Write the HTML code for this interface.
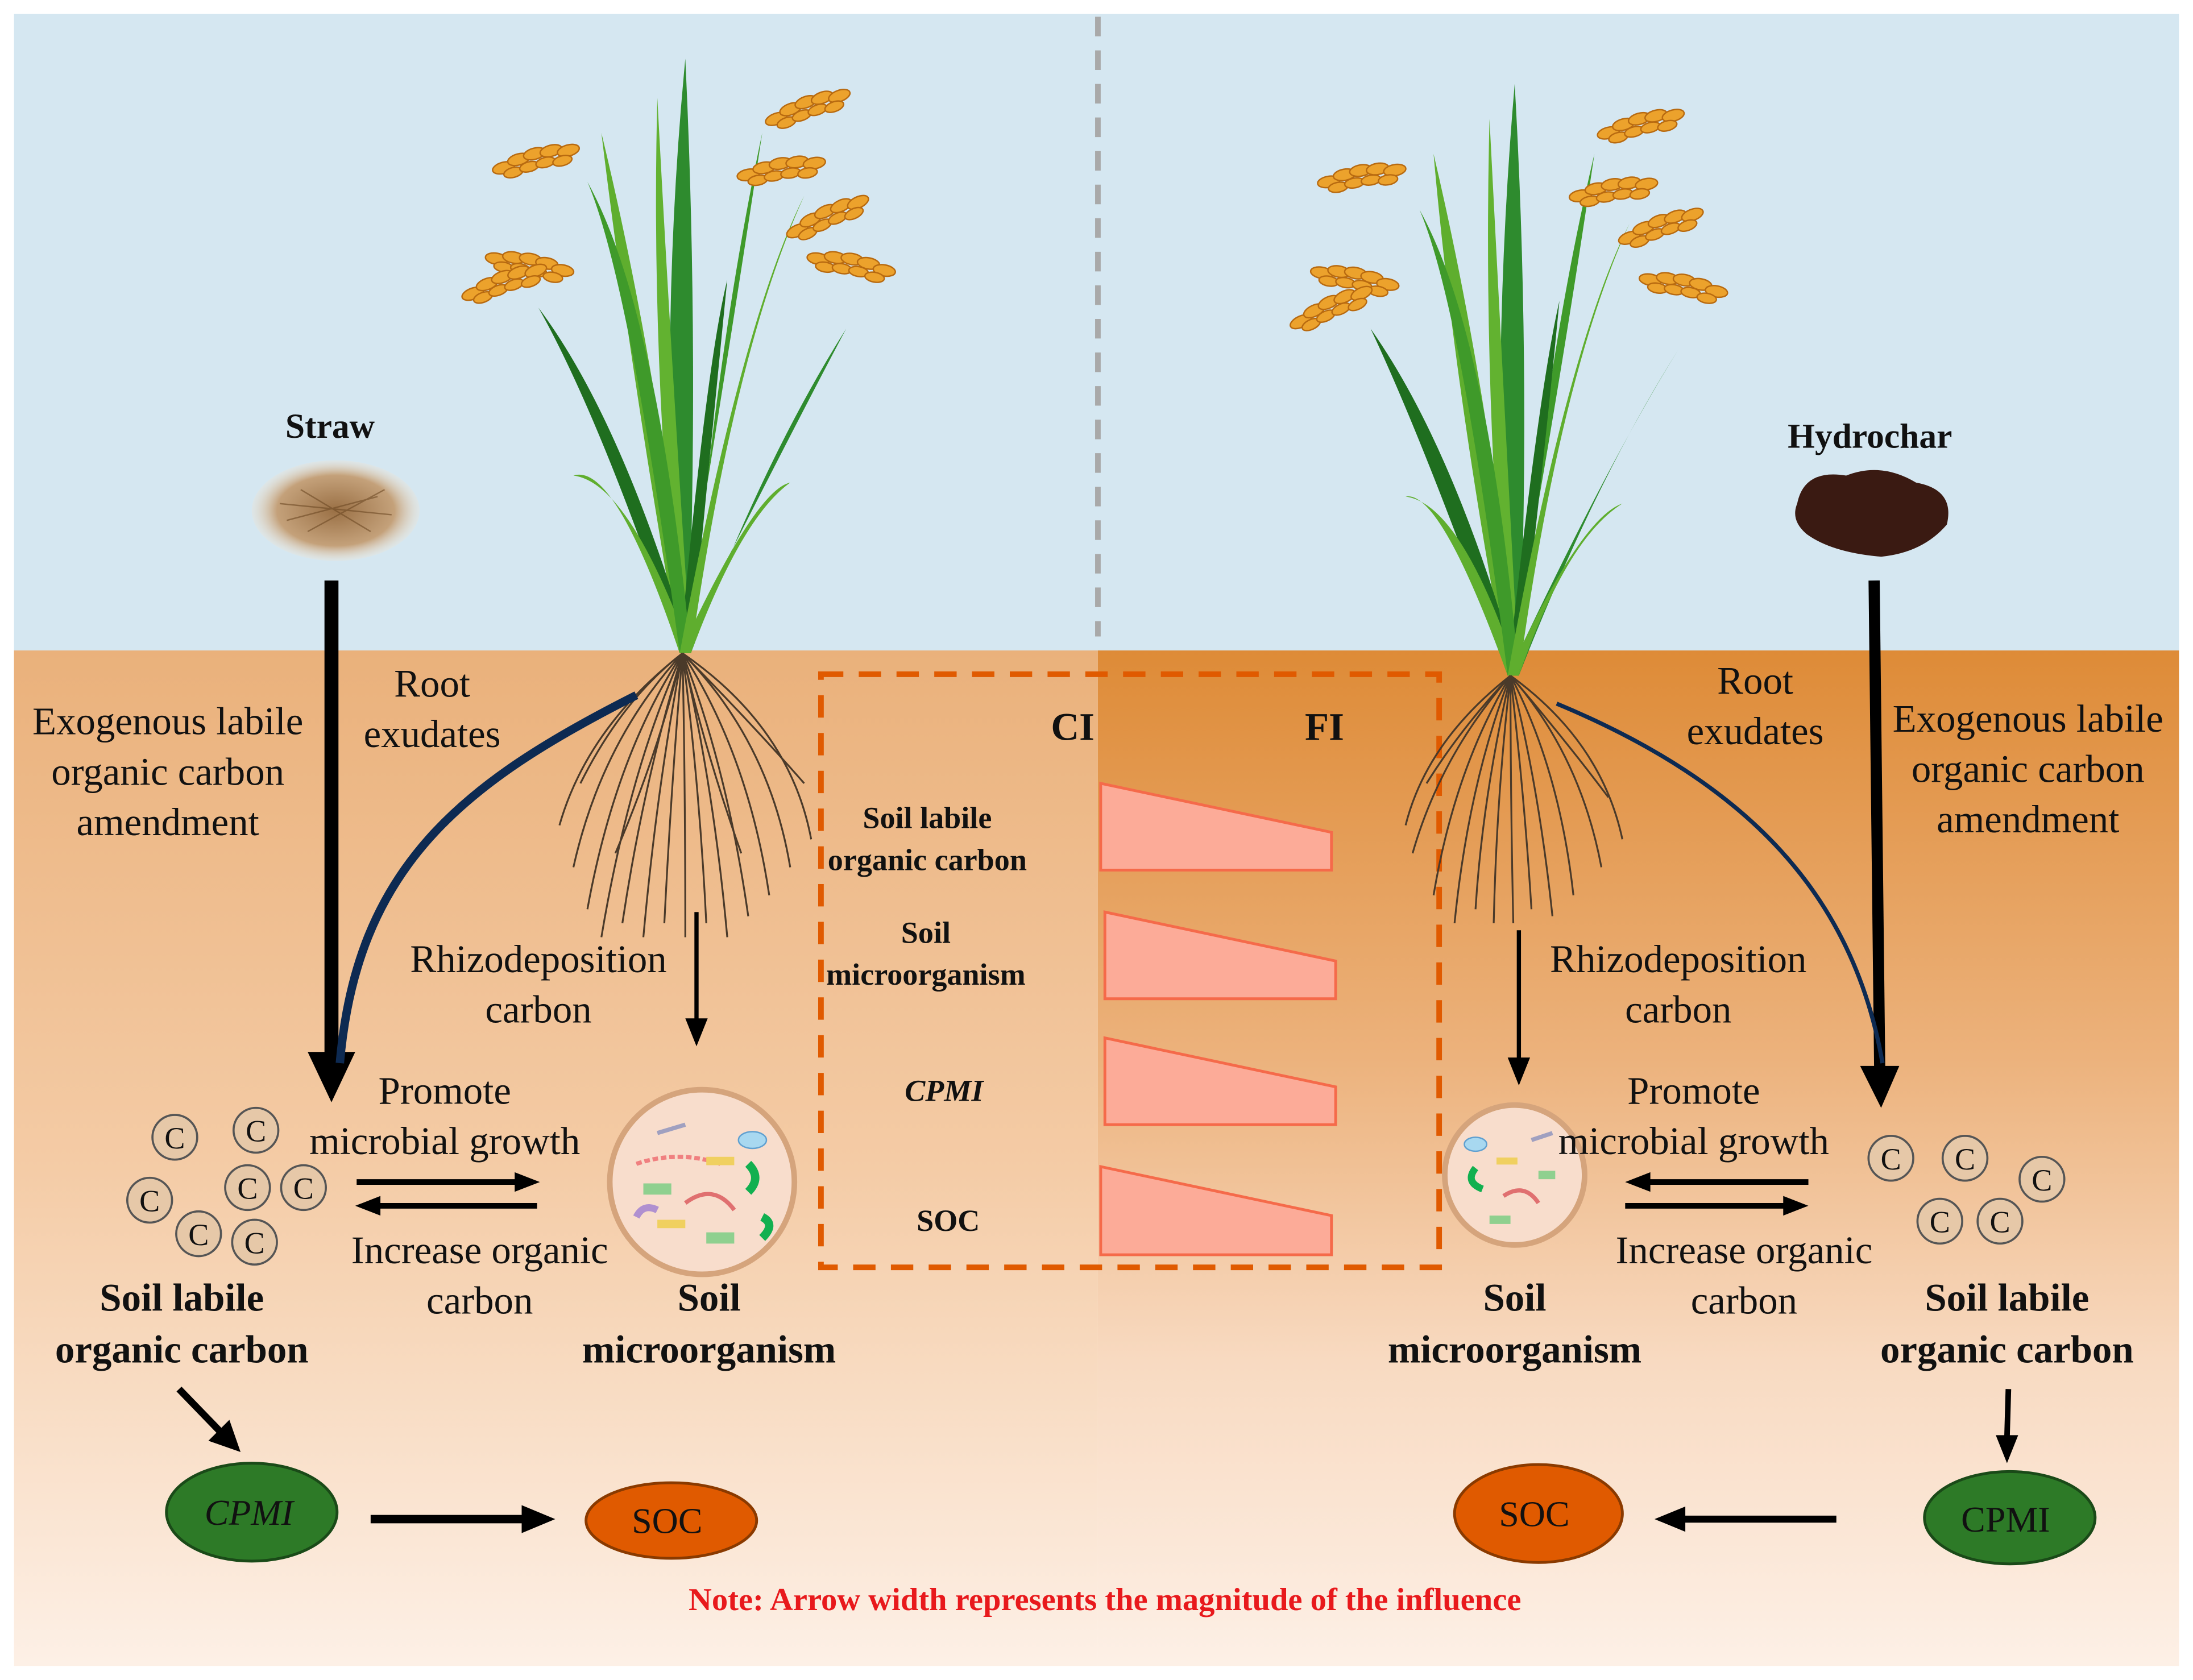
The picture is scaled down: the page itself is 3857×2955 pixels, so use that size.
<!DOCTYPE html>
<html><head><meta charset="utf-8"><style>
html,body{margin:0;padding:0;background:#fff}
svg{display:block}
text{font-family:"Liberation Serif","DejaVu Serif",serif;fill:#111}
</style></head><body>
<svg width="3857" height="2955" viewBox="0 0 1568 1201" preserveAspectRatio="none" xmlns="http://www.w3.org/2000/svg" font-family="Liberation Serif, DejaVu Serif, serif">
<defs>
<linearGradient id="gl" x1="0" y1="0" x2="0" y2="1">
<stop offset="0" stop-color="#eab17b"/><stop offset="0.5" stop-color="#f4cba5"/><stop offset="1" stop-color="#fdf0e6"/></linearGradient>
<linearGradient id="gr" x1="0" y1="0" x2="0" y2="1">
<stop offset="0" stop-color="#de8b37"/><stop offset="0.4" stop-color="#ecb27c"/><stop offset="0.7" stop-color="#f8dac1"/><stop offset="1" stop-color="#fdf0e6"/></linearGradient>
<radialGradient id="straw"><stop offset="0" stop-color="#9a7045"/><stop offset="0.7" stop-color="#c4a17a"/><stop offset="1" stop-color="#efe3d2" stop-opacity="0.3"/></radialGradient>
<g id="gh1" fill="#eca22c" stroke="#b86a10" stroke-width="1"><ellipse cx="0" cy="0" rx="8" ry="4"/><ellipse cx="12" cy="-3" rx="8" ry="4"/><ellipse cx="24" cy="-4" rx="8" ry="4"/><ellipse cx="36" cy="-3" rx="8" ry="4"/><ellipse cx="48" cy="0" rx="8" ry="4"/><ellipse cx="6" cy="5" rx="7" ry="3.5"/><ellipse cx="18" cy="4" rx="7" ry="3.5"/><ellipse cx="30" cy="4" rx="7" ry="3.5"/><ellipse cx="42" cy="6" rx="7" ry="3.5"/></g>
</defs>
<rect x="0" y="0" width="1568" height="1201" fill="#fff"/>
<rect x="10" y="10" width="1548" height="456" fill="#d5e7f1"/>
<rect x="10" y="465" width="775" height="726" fill="url(#gl)"/>
<rect x="785" y="465" width="773" height="726" fill="url(#gr)"/>
<line x1="785" y1="12" x2="785" y2="455" stroke="#a9a9a9" stroke-width="4" stroke-dasharray="14 10"/>
<rect x="587" y="482" width="442" height="424" fill="none" stroke="#e05a00" stroke-width="4" stroke-dasharray="16 11"/>

<g>
<path d="M486,467 Q470,250 490,42 Q500,250 492,467Z" fill="#2e8b2e"/>
<path d="M486,467 Q450,260 430,95 Q470,260 494,467Z" fill="#5fae2e"/>
<path d="M486,467 Q520,260 545,95 Q510,260 494,467Z" fill="#3f9a2a"/>
<path d="M486,467 Q430,300 385,220 Q445,300 494,467Z" fill="#1f6e1f"/>
<path d="M486,467 Q560,320 605,235 Q545,330 494,467Z" fill="#2e8b2e"/>
<path d="M486,467 Q440,330 410,340 Q450,345 494,467Z" fill="#5fae2e"/>
<path d="M486,467 Q540,350 565,345 Q530,370 494,467Z" fill="#5fae2e"/>
<path d="M486,467 Q465,260 470,70 Q480,260 494,467Z" fill="#62b230"/>
<path d="M486,467 Q505,260 520,200 Q510,300 494,467Z" fill="#1f6e1f"/>
<path d="M486,467 Q470,300 455,270 Q480,320 494,467Z" fill="#2e8b2e"/>
<path d="M486,467 Q450,200 420,130 Q470,220 494,467Z" fill="#3f9a2a"/>
<path d="M486,467 Q530,230 575,140 Q525,250 494,467Z" fill="#5fae2e"/>
</g>
<g>
<path d="M1078,483 Q1065,270 1083,60 Q1095,270 1086,483Z" fill="#2e8b2e"/>
<path d="M1078,483 Q1040,280 1025,110 Q1065,280 1086,483Z" fill="#5fae2e"/>
<path d="M1078,483 Q1115,280 1140,110 Q1100,280 1086,483Z" fill="#3f9a2a"/>
<path d="M1078,483 Q1020,320 980,235 Q1040,320 1086,483Z" fill="#1f6e1f"/>
<path d="M1078,483 Q1150,330 1200,250 Q1140,345 1086,483Z" fill="#2e8b2e"/>
<path d="M1078,483 Q1030,350 1005,355 Q1045,360 1086,483Z" fill="#5fae2e"/>
<path d="M1078,483 Q1130,370 1160,360 Q1120,385 1086,483Z" fill="#5fae2e"/>
<path d="M1078,483 Q1060,280 1065,85 Q1075,280 1086,483Z" fill="#62b230"/>
<path d="M1078,483 Q1100,280 1115,215 Q1105,320 1086,483Z" fill="#1f6e1f"/>
<path d="M1078,483 Q1045,220 1015,150 Q1065,240 1086,483Z" fill="#3f9a2a"/>
<path d="M1078,483 Q1120,250 1165,160 Q1115,270 1086,483Z" fill="#5fae2e"/>
</g>
<g>
<use href="#gh1" transform="translate(360,120) rotate(-15)"/>
<use href="#gh1" transform="translate(355,185) rotate(10)"/>
<use href="#gh1" transform="translate(338,210) rotate(-20)"/>
<use href="#gh1" transform="translate(555,85) rotate(-20)"/>
<use href="#gh1" transform="translate(535,125) rotate(-10)"/>
<use href="#gh1" transform="translate(570,165) rotate(-25)"/>
<use href="#gh1" transform="translate(585,185) rotate(10)"/>
<use href="#gh1" transform="translate(950,130) rotate(-10)"/>
<use href="#gh1" transform="translate(945,195) rotate(10)"/>
<use href="#gh1" transform="translate(930,230) rotate(-25)"/>
<use href="#gh1" transform="translate(1150,95) rotate(-15)"/>
<use href="#gh1" transform="translate(1130,140) rotate(-10)"/>
<use href="#gh1" transform="translate(1165,170) rotate(-20)"/>
<use href="#gh1" transform="translate(1180,200) rotate(10)"/>
</g>
<g stroke="#4a3a2a" stroke-width="1.3" fill="none">
<path d="M488,467 Q420,520 400,590"/><path d="M488,467 Q430,530 410,620"/><path d="M488,467 Q440,540 420,650"/>
<path d="M488,467 Q450,550 430,670"/><path d="M488,467 Q460,560 445,660"/><path d="M488,467 Q470,560 460,670"/>
<path d="M488,467 Q480,560 475,660"/><path d="M488,467 Q490,560 490,670"/><path d="M488,467 Q500,560 505,660"/>
<path d="M488,467 Q510,560 520,670"/><path d="M488,467 Q520,550 535,655"/><path d="M488,467 Q535,540 550,640"/>
<path d="M488,467 Q550,530 565,620"/><path d="M488,467 Q565,520 580,600"/><path d="M488,467 Q540,520 575,560"/>
<path d="M488,467 Q445,500 415,560"/><path d="M488,467 Q470,540 440,610"/><path d="M488,467 Q505,540 530,610"/>
</g>
<g stroke="#4a3a2a" stroke-width="1.3" fill="none">
<path d="M1080,483 Q1020,530 1005,590"/><path d="M1080,483 Q1030,540 1010,610"/><path d="M1080,483 Q1040,550 1025,640"/>
<path d="M1080,483 Q1050,560 1040,660"/><path d="M1080,483 Q1060,570 1055,650"/><path d="M1080,483 Q1070,570 1068,660"/>
<path d="M1080,483 Q1080,570 1082,660"/><path d="M1080,483 Q1090,570 1095,650"/><path d="M1080,483 Q1100,560 1110,655"/>
<path d="M1080,483 Q1115,550 1125,640"/><path d="M1080,483 Q1130,540 1145,620"/><path d="M1080,483 Q1145,530 1160,600"/>
<path d="M1080,483 Q1045,520 1020,560"/><path d="M1080,483 Q1120,530 1150,570"/>
</g>
<ellipse cx="240" cy="365" rx="60" ry="36" fill="url(#straw)"/>
<g stroke="#6e4a25" stroke-width="1" opacity="0.6"><path d="M200,360 L280,368 M205,372 L270,355 M215,350 L265,380 M220,380 L275,350"/></g>
<path d="M1285,360 Q1290,335 1320,340 Q1345,330 1370,345 Q1398,350 1392,375 Q1375,395 1345,398 Q1310,395 1292,382 Q1280,372 1285,360Z" fill="#3a1a12"/>
<text x="236" y="313" font-size="25" font-weight="bold" text-anchor="middle">Straw</text>
<text x="1337" y="320" font-size="25" font-weight="bold" text-anchor="middle">Hydrochar</text>

<line x1="237" y1="415" x2="237" y2="755" stroke="#000" stroke-width="10"/>
<path d="M220,752 L254,752 L237,788Z" fill="#000"/>
<line x1="1340" y1="415" x2="1344" y2="765" stroke="#000" stroke-width="8"/>
<path d="M1330,762 L1358,762 L1345,792Z" fill="#000"/>
<path d="M455,497 C330,560 255,620 243,760" stroke="#0d2a52" stroke-width="6" fill="none"/>
<path d="M1113,503 C1250,560 1325,640 1346,760" stroke="#0d2a52" stroke-width="3" fill="none"/>
<line x1="498" y1="652" x2="498" y2="730" stroke="#000" stroke-width="3"/><path d="M490,728 L506,728 L498,748Z" fill="#000"/>
<line x1="1086" y1="665" x2="1086" y2="758" stroke="#000" stroke-width="3"/><path d="M1078,756 L1094,756 L1086,776Z" fill="#000"/>
<line x1="255" y1="845" x2="370" y2="845" stroke="#000" stroke-width="4"/><path d="M368,838 L386,845 L368,852Z" fill="#000"/>
<line x1="270" y1="862" x2="384" y2="862" stroke="#000" stroke-width="4"/><path d="M272,855 L254,862 L272,869Z" fill="#000"/>
<line x1="1178" y1="845" x2="1293" y2="845" stroke="#000" stroke-width="4"/><path d="M1180,838 L1162,845 L1180,852Z" fill="#000"/>
<line x1="1162" y1="862" x2="1277" y2="862" stroke="#000" stroke-width="4"/><path d="M1275,855 L1293,862 L1275,869Z" fill="#000"/>
<line x1="128" y1="993" x2="158" y2="1024" stroke="#000" stroke-width="5"/><path d="M149,1030 L172,1038 L164,1015Z" fill="#000"/>
<line x1="1436" y1="993" x2="1435" y2="1028" stroke="#000" stroke-width="4"/><path d="M1427,1026 L1443,1026 L1435,1046Z" fill="#000"/>
<line x1="265" y1="1086" x2="375" y2="1086" stroke="#000" stroke-width="6"/><path d="M373,1076 L397,1086 L373,1096Z" fill="#000"/>
<line x1="1203" y1="1086" x2="1313" y2="1086" stroke="#000" stroke-width="5"/><path d="M1205,1077 L1183,1086 L1205,1095Z" fill="#000"/>

<ellipse cx="180" cy="1081" rx="61" ry="35" fill="#2d7a27" stroke="#1a4a18" stroke-width="2"/>
<text x="178" y="1090" font-size="26" font-style="italic" text-anchor="middle">CPMI</text>
<ellipse cx="480" cy="1087" rx="61" ry="27" fill="#e05a00" stroke="#8a3a00" stroke-width="2"/>
<text x="477" y="1096" font-size="26" text-anchor="middle">SOC</text>
<ellipse cx="1100" cy="1082" rx="60" ry="35" fill="#e05a00" stroke="#8a3a00" stroke-width="2"/>
<text x="1097" y="1091" font-size="26" text-anchor="middle">SOC</text>
<ellipse cx="1437" cy="1085" rx="61" ry="33" fill="#2d7a27" stroke="#1a4a18" stroke-width="2"/>
<text x="1434" y="1095" font-size="26" text-anchor="middle">CPMI</text>

<circle cx="502" cy="845" r="66" fill="#f8ddcc" stroke="#d5a47c" stroke-width="4"/>
<g stroke-width="3" fill="none"><path d="M470,810 l20,-6" stroke="#a0a0c0"/><path d="M455,832 q30,-10 60,0" stroke="#f08080" stroke-dasharray="4 2"/><path d="M535,832 q10,10 0,20" stroke="#12b050" stroke-width="6"/><path d="M460,850 l20,0" stroke="#8fd08f" stroke-width="8"/><path d="M490,860 q20,-15 35,5" stroke="#e07070"/><path d="M505,830 l20,0" stroke="#f0d060" stroke-width="6"/><ellipse cx="538" cy="815" rx="10" ry="6" fill="#a8d8f0" stroke="#60a0d0" stroke-width="1"/><path d="M505,885 l20,0" stroke="#8fd08f" stroke-width="8"/><path d="M470,875 l20,0" stroke="#f0d060" stroke-width="6"/><path d="M455,870 q5,-10 15,-5" stroke="#b090d0" stroke-width="5"/><path d="M545,870 q10,5 0,15" stroke="#12b050" stroke-width="6"/></g>
<circle cx="1083" cy="840" r="50" fill="#f8ddcc" stroke="#d5a47c" stroke-width="4"/>
<g stroke-width="3" fill="none"><ellipse cx="1055" cy="818" rx="8" ry="5" fill="#a8d8f0" stroke="#60a0d0" stroke-width="1"/><path d="M1055,835 q-8,10 5,15" stroke="#12b050" stroke-width="5"/><path d="M1070,830 l15,0" stroke="#f0d060" stroke-width="5"/><path d="M1075,855 q15,-10 25,5" stroke="#e07070"/><path d="M1065,872 l15,0" stroke="#8fd08f" stroke-width="6"/><path d="M1095,815 l15,-5" stroke="#a0a0c0"/><path d="M1100,840 l12,0" stroke="#8fd08f" stroke-width="6"/></g>

<g font-size="22" text-anchor="middle">
<g fill="#e6c8a8" stroke="#555" stroke-width="1.5">
<circle cx="125" cy="813" r="16"/><circle cx="183" cy="808" r="16"/><circle cx="177" cy="849" r="16"/><circle cx="217" cy="849" r="16"/><circle cx="107" cy="858" r="16"/><circle cx="142" cy="882" r="16"/><circle cx="182" cy="888" r="16"/>
<circle cx="1352" cy="828" r="16"/><circle cx="1405" cy="828" r="16"/><circle cx="1460" cy="843" r="16"/><circle cx="1387" cy="873" r="16"/><circle cx="1430" cy="873" r="16"/>
</g>
<g fill="#222"><text x="125" y="821">C</text><text x="183" y="816">C</text><text x="177" y="857">C</text><text x="217" y="857">C</text><text x="107" y="866">C</text><text x="142" y="890">C</text><text x="182" y="896">C</text>
<text x="1352" y="836">C</text><text x="1405" y="836">C</text><text x="1460" y="851">C</text><text x="1387" y="881">C</text><text x="1430" y="881">C</text></g>
</g>

<g fill="#fcab98" stroke="#f56a4a" stroke-width="2">
<path d="M787,560 L952,595 L952,622 L787,622Z"/>
<path d="M790,652 L955,687 L955,714 L790,714Z"/>
<path d="M790,742 L955,777 L955,804 L790,804Z"/>
<path d="M787,834 L952,869 L952,897 L787,897Z"/>
</g>

<g font-size="28" text-anchor="middle">
<text x="120" y="525">Exogenous labile</text><text x="120" y="561">organic carbon</text><text x="120" y="597">amendment</text>
<text x="1450" y="523">Exogenous labile</text><text x="1450" y="559">organic carbon</text><text x="1450" y="595">amendment</text>
<text x="309" y="498">Root</text><text x="309" y="534">exudates</text>
<text x="1255" y="496">Root</text><text x="1255" y="532">exudates</text>
<text x="385" y="695">Rhizodeposition</text><text x="385" y="731">carbon</text>
<text x="1200" y="695">Rhizodeposition</text><text x="1200" y="731">carbon</text>
<text x="318" y="789">Promote</text><text x="318" y="825">microbial growth</text>
<text x="1211" y="789">Promote</text><text x="1211" y="825">microbial growth</text>
<text x="343" y="903">Increase organic</text><text x="343" y="939">carbon</text>
<text x="1247" y="903">Increase organic</text><text x="1247" y="939">carbon</text>
</g>
<g font-size="28" font-weight="bold" text-anchor="middle">
<text x="130" y="937">Soil labile</text><text x="130" y="974">organic carbon</text>
<text x="1435" y="937">Soil labile</text><text x="1435" y="974">organic carbon</text>
<text x="507" y="937">Soil</text><text x="507" y="974">microorganism</text>
<text x="1083" y="937">Soil</text><text x="1083" y="974">microorganism</text>
<text x="767" y="529">CI</text><text x="947" y="529">FI</text>
</g>
<g font-size="22" font-weight="bold" text-anchor="middle">
<text x="663" y="592">Soil labile</text><text x="663" y="622">organic carbon</text>
<text x="662" y="674">Soil</text><text x="662" y="704">microorganism</text>
<text x="675" y="787" font-style="italic">CPMI</text>
<text x="678" y="880">SOC</text>
</g>
<text x="790" y="1151" font-size="23" font-weight="bold" text-anchor="middle" style="fill:#e8191c">Note: Arrow width represents the magnitude of the influence</text>
</svg>
</body></html>
